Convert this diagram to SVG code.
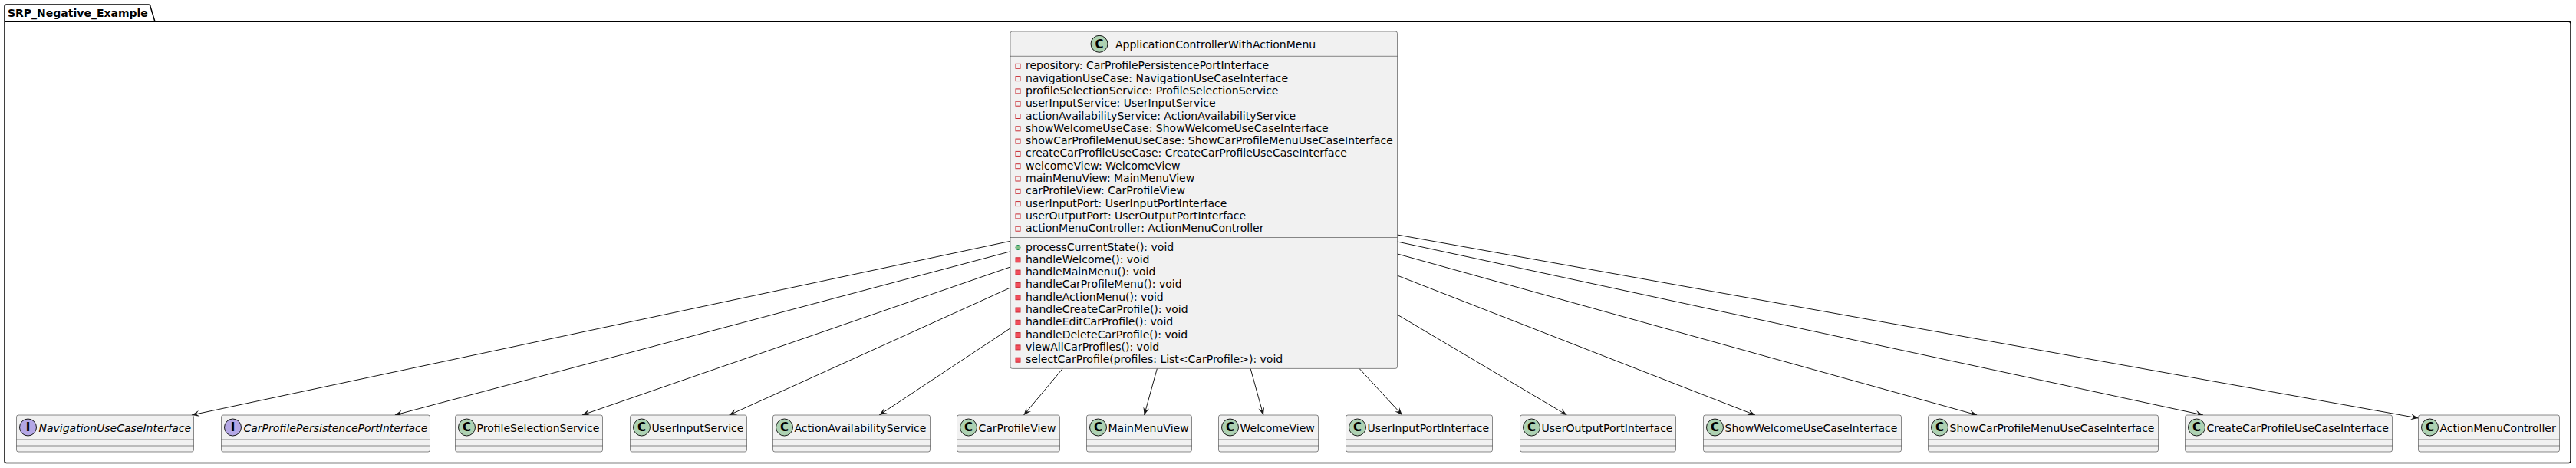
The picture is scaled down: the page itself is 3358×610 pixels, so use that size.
<svg xmlns="http://www.w3.org/2000/svg" width="3358" height="610" viewBox="0 0 3358 610">
<style>
text{font-family:"DejaVu Sans","Noto Sans",sans-serif;font-size:14px;fill:#000}
.pkg{fill:none;stroke:#000;stroke-width:1.5}
.pt{font-weight:bold}
.box{fill:#F1F1F1;stroke:#181818;stroke-width:0.5}
.sep{stroke:#181818;stroke-width:0.5}
.cc{fill:#ADD1B2;stroke:#181818;stroke-width:1}
.ic{fill:#B4A7E5;stroke:#181818;stroke-width:1}
.gl{font-weight:bold;font-size:15px;text-anchor:middle}
.it{font-style:italic}
.fp{fill:none;stroke:#C82930;stroke-width:1}
.mp{fill:#F24D5C;stroke:#C82930;stroke-width:1}
.pub{fill:#84BE84;stroke:#038048;stroke-width:1}
.edge{stroke:#181818;stroke-width:1;fill:none;marker-end:url(#arr)}
</style>
<defs>
<marker id="arr" markerUnits="userSpaceOnUse" markerWidth="12" markerHeight="10" viewBox="-11 -5 12 10" refX="0" refY="0" orient="auto">
<path d="M0,0 L-10,-4 L-6,0 L-10,4 Z" fill="#181818"/>
</marker>
</defs>
<g id="SRP_Negative_Example">
<path class="pkg" d="M8.5,6 L193.5,6 A2.5,2.5 0 0 1 196,8.5 L202,28.3 L3348.5,28.3 A2.5,2.5 0 0 1 3351,30.8 L3351,601 A2.5,2.5 0 0 1 3348.5,603.5 L8.5,603.5 A2.5,2.5 0 0 1 6,601 L6,8.5 A2.5,2.5 0 0 1 8.5,6 Z"/>
<line class="pkg" x1="6" y1="28.3" x2="202" y2="28.3"/>
<text class="pt" x="10" y="22">SRP_Negative_Example</text>
</g>
<g id="connectors">
<line class="edge" x1="1317" y1="314.3" x2="249.9" y2="541"/>
<line class="edge" x1="1317" y1="327.8" x2="514.8" y2="541"/>
<line class="edge" x1="1317" y1="348" x2="758.9" y2="541"/>
<line class="edge" x1="1317" y1="375" x2="950.5" y2="541"/>
<line class="edge" x1="1317" y1="427.8" x2="1146.2" y2="541"/>
<line class="edge" x1="1385.3" y1="480.4" x2="1334.6" y2="541"/>
<line class="edge" x1="1508.4" y1="480.4" x2="1491.6" y2="541"/>
<line class="edge" x1="1630.1" y1="480.4" x2="1646.9" y2="541"/>
<line class="edge" x1="1772" y1="480.4" x2="1827.9" y2="541"/>
<line class="edge" x1="1821.5" y1="410.1" x2="2042.5" y2="541"/>
<line class="edge" x1="1821.5" y1="359.1" x2="2288" y2="541"/>
<line class="edge" x1="1821.5" y1="330.9" x2="2577.2" y2="541"/>
<line class="edge" x1="1821.5" y1="315" x2="2872" y2="541"/>
<line class="edge" x1="1821.5" y1="306" x2="3152.5" y2="545"/>
</g>
<g id="ApplicationControllerWithActionMenu">
<rect class="box" x="1317" y="41" width="504.5" height="439.4" rx="2.5"/>
<circle class="cc" cx="1433" cy="57.3" r="11"/>
<text class="gl" x="1433" y="62.6">C</text>
<text x="1454" y="62.5">ApplicationControllerWithActionMenu</text>
<line class="sep" x1="1317" y1="73.3" x2="1821.5" y2="73.3"/>
<rect class="fp" x="1324" y="83.3" width="6" height="6"/>
<text x="1337" y="90.3">repository: CarProfilePersistencePortInterface</text>
<rect class="fp" x="1324" y="99.6" width="6" height="6"/>
<text x="1337" y="106.6">navigationUseCase: NavigationUseCaseInterface</text>
<rect class="fp" x="1324" y="115.9" width="6" height="6"/>
<text x="1337" y="122.9">profileSelectionService: ProfileSelectionService</text>
<rect class="fp" x="1324" y="132.2" width="6" height="6"/>
<text x="1337" y="139.2">userInputService: UserInputService</text>
<rect class="fp" x="1324" y="148.5" width="6" height="6"/>
<text x="1337" y="155.5">actionAvailabilityService: ActionAvailabilityService</text>
<rect class="fp" x="1324" y="164.8" width="6" height="6"/>
<text x="1337" y="171.8">showWelcomeUseCase: ShowWelcomeUseCaseInterface</text>
<rect class="fp" x="1324" y="181.1" width="6" height="6"/>
<text x="1337" y="188.1">showCarProfileMenuUseCase: ShowCarProfileMenuUseCaseInterface</text>
<rect class="fp" x="1324" y="197.4" width="6" height="6"/>
<text x="1337" y="204.4">createCarProfileUseCase: CreateCarProfileUseCaseInterface</text>
<rect class="fp" x="1324" y="213.7" width="6" height="6"/>
<text x="1337" y="220.7">welcomeView: WelcomeView</text>
<rect class="fp" x="1324" y="230" width="6" height="6"/>
<text x="1337" y="237">mainMenuView: MainMenuView</text>
<rect class="fp" x="1324" y="246.3" width="6" height="6"/>
<text x="1337" y="253.3">carProfileView: CarProfileView</text>
<rect class="fp" x="1324" y="262.6" width="6" height="6"/>
<text x="1337" y="269.6">userInputPort: UserInputPortInterface</text>
<rect class="fp" x="1324" y="278.9" width="6" height="6"/>
<text x="1337" y="285.9">userOutputPort: UserOutputPortInterface</text>
<rect class="fp" x="1324" y="295.2" width="6" height="6"/>
<text x="1337" y="302.2">actionMenuController: ActionMenuController</text>
<line class="sep" x1="1317" y1="309.5" x2="1821.5" y2="309.5"/>
<circle class="pub" cx="1327" cy="322.5" r="3"/>
<text x="1337" y="326.5">processCurrentState(): void</text>
<rect class="mp" x="1324" y="335.8" width="6" height="6"/>
<text x="1337" y="342.8">handleWelcome(): void</text>
<rect class="mp" x="1324" y="352.1" width="6" height="6"/>
<text x="1337" y="359.1">handleMainMenu(): void</text>
<rect class="mp" x="1324" y="368.4" width="6" height="6"/>
<text x="1337" y="375.4">handleCarProfileMenu(): void</text>
<rect class="mp" x="1324" y="384.7" width="6" height="6"/>
<text x="1337" y="391.7">handleActionMenu(): void</text>
<rect class="mp" x="1324" y="401" width="6" height="6"/>
<text x="1337" y="408">handleCreateCarProfile(): void</text>
<rect class="mp" x="1324" y="417.3" width="6" height="6"/>
<text x="1337" y="424.3">handleEditCarProfile(): void</text>
<rect class="mp" x="1324" y="433.6" width="6" height="6"/>
<text x="1337" y="440.6">handleDeleteCarProfile(): void</text>
<rect class="mp" x="1324" y="449.9" width="6" height="6"/>
<text x="1337" y="456.9">viewAllCarProfiles(): void</text>
<rect class="mp" x="1324" y="466.2" width="6" height="6"/>
<text x="1337" y="473.2">selectCarProfile(profiles: List&lt;CarProfile&gt;): void</text>
</g>
<g id="NavigationUseCaseInterface">
<rect class="box" x="21.5" y="541" width="231" height="48" rx="2.5"/>
<circle class="ic" cx="36.5" cy="557" r="11"/><text class="gl" x="36.5" y="562.3">I</text>
<text class="it" x="50.5" y="562.5">NavigationUseCaseInterface</text>
<line class="sep" x1="21.5" y1="573" x2="252.5" y2="573"/><line class="sep" x1="21.5" y1="581" x2="252.5" y2="581"/>
</g>
<g id="CarProfilePersistencePortInterface">
<rect class="box" x="288.5" y="541" width="272" height="48" rx="2.5"/>
<circle class="ic" cx="303.5" cy="557" r="11"/><text class="gl" x="303.5" y="562.3">I</text>
<text class="it" x="317.5" y="562.5">CarProfilePersistencePortInterface</text>
<line class="sep" x1="288.5" y1="573" x2="560.5" y2="573"/><line class="sep" x1="288.5" y1="581" x2="560.5" y2="581"/>
</g>
<g id="ProfileSelectionService">
<rect class="box" x="593.5" y="541" width="192" height="48" rx="2.5"/>
<circle class="cc" cx="608.5" cy="557" r="11"/><text class="gl" x="608.5" y="562.3">C</text>
<text x="621.5" y="562.5">ProfileSelectionService</text>
<line class="sep" x1="593.5" y1="573" x2="785.5" y2="573"/><line class="sep" x1="593.5" y1="581" x2="785.5" y2="581"/>
</g>
<g id="UserInputService">
<rect class="box" x="821.5" y="541" width="152" height="48" rx="2.5"/>
<circle class="cc" cx="836.5" cy="557" r="11"/><text class="gl" x="836.5" y="562.3">C</text>
<text x="849.5" y="562.5">UserInputService</text>
<line class="sep" x1="821.5" y1="573" x2="973.5" y2="573"/><line class="sep" x1="821.5" y1="581" x2="973.5" y2="581"/>
</g>
<g id="ActionAvailabilityService">
<rect class="box" x="1007.5" y="541" width="205" height="48" rx="2.5"/>
<circle class="cc" cx="1022.5" cy="557" r="11"/><text class="gl" x="1022.5" y="562.3">C</text>
<text x="1035.5" y="562.5">ActionAvailabilityService</text>
<line class="sep" x1="1007.5" y1="573" x2="1212.5" y2="573"/><line class="sep" x1="1007.5" y1="581" x2="1212.5" y2="581"/>
</g>
<g id="CarProfileView">
<rect class="box" x="1247.5" y="541" width="134" height="48" rx="2.5"/>
<circle class="cc" cx="1262.5" cy="557" r="11"/><text class="gl" x="1262.5" y="562.3">C</text>
<text x="1275.5" y="562.5">CarProfileView</text>
<line class="sep" x1="1247.5" y1="573" x2="1381.5" y2="573"/><line class="sep" x1="1247.5" y1="581" x2="1381.5" y2="581"/>
</g>
<g id="MainMenuView">
<rect class="box" x="1416.5" y="541" width="137" height="48" rx="2.5"/>
<circle class="cc" cx="1431.5" cy="557" r="11"/><text class="gl" x="1431.5" y="562.3">C</text>
<text x="1444.5" y="562.5">MainMenuView</text>
<line class="sep" x1="1416.5" y1="573" x2="1553.5" y2="573"/><line class="sep" x1="1416.5" y1="581" x2="1553.5" y2="581"/>
</g>
<g id="WelcomeView">
<rect class="box" x="1588.5" y="541" width="130" height="48" rx="2.5"/>
<circle class="cc" cx="1603.5" cy="557" r="11"/><text class="gl" x="1603.5" y="562.3">C</text>
<text x="1616.5" y="562.5">WelcomeView</text>
<line class="sep" x1="1588.5" y1="573" x2="1718.5" y2="573"/><line class="sep" x1="1588.5" y1="581" x2="1718.5" y2="581"/>
</g>
<g id="UserInputPortInterface">
<rect class="box" x="1754.5" y="541" width="191" height="48" rx="2.5"/>
<circle class="cc" cx="1769.5" cy="557" r="11"/><text class="gl" x="1769.5" y="562.3">C</text>
<text x="1782.5" y="562.5">UserInputPortInterface</text>
<line class="sep" x1="1754.5" y1="573" x2="1945.5" y2="573"/><line class="sep" x1="1754.5" y1="581" x2="1945.5" y2="581"/>
</g>
<g id="UserOutputPortInterface">
<rect class="box" x="1981.5" y="541" width="203" height="48" rx="2.5"/>
<circle class="cc" cx="1996.5" cy="557" r="11"/><text class="gl" x="1996.5" y="562.3">C</text>
<text x="2009.5" y="562.5">UserOutputPortInterface</text>
<line class="sep" x1="1981.5" y1="573" x2="2184.5" y2="573"/><line class="sep" x1="1981.5" y1="581" x2="2184.5" y2="581"/>
</g>
<g id="ShowWelcomeUseCaseInterface">
<rect class="box" x="2220.5" y="541" width="258" height="48" rx="2.5"/>
<circle class="cc" cx="2235.5" cy="557" r="11"/><text class="gl" x="2235.5" y="562.3">C</text>
<text x="2248.5" y="562.5">ShowWelcomeUseCaseInterface</text>
<line class="sep" x1="2220.5" y1="573" x2="2478.5" y2="573"/><line class="sep" x1="2220.5" y1="581" x2="2478.5" y2="581"/>
</g>
<g id="ShowCarProfileMenuUseCaseInterface">
<rect class="box" x="2513.5" y="541" width="300" height="48" rx="2.5"/>
<circle class="cc" cx="2528.5" cy="557" r="11"/><text class="gl" x="2528.5" y="562.3">C</text>
<text x="2541.5" y="562.5">ShowCarProfileMenuUseCaseInterface</text>
<line class="sep" x1="2513.5" y1="573" x2="2813.5" y2="573"/><line class="sep" x1="2513.5" y1="581" x2="2813.5" y2="581"/>
</g>
<g id="CreateCarProfileUseCaseInterface">
<rect class="box" x="2848.5" y="541" width="270" height="48" rx="2.5"/>
<circle class="cc" cx="2863.5" cy="557" r="11"/><text class="gl" x="2863.5" y="562.3">C</text>
<text x="2876.5" y="562.5">CreateCarProfileUseCaseInterface</text>
<line class="sep" x1="2848.5" y1="573" x2="3118.5" y2="573"/><line class="sep" x1="2848.5" y1="581" x2="3118.5" y2="581"/>
</g>
<g id="ActionMenuController">
<rect class="box" x="3152.5" y="541" width="184" height="48" rx="2.5"/>
<circle class="cc" cx="3167.5" cy="557" r="11"/><text class="gl" x="3167.5" y="562.3">C</text>
<text x="3180.5" y="562.5">ActionMenuController</text>
<line class="sep" x1="3152.5" y1="573" x2="3336.5" y2="573"/><line class="sep" x1="3152.5" y1="581" x2="3336.5" y2="581"/>
</g>
</svg>
